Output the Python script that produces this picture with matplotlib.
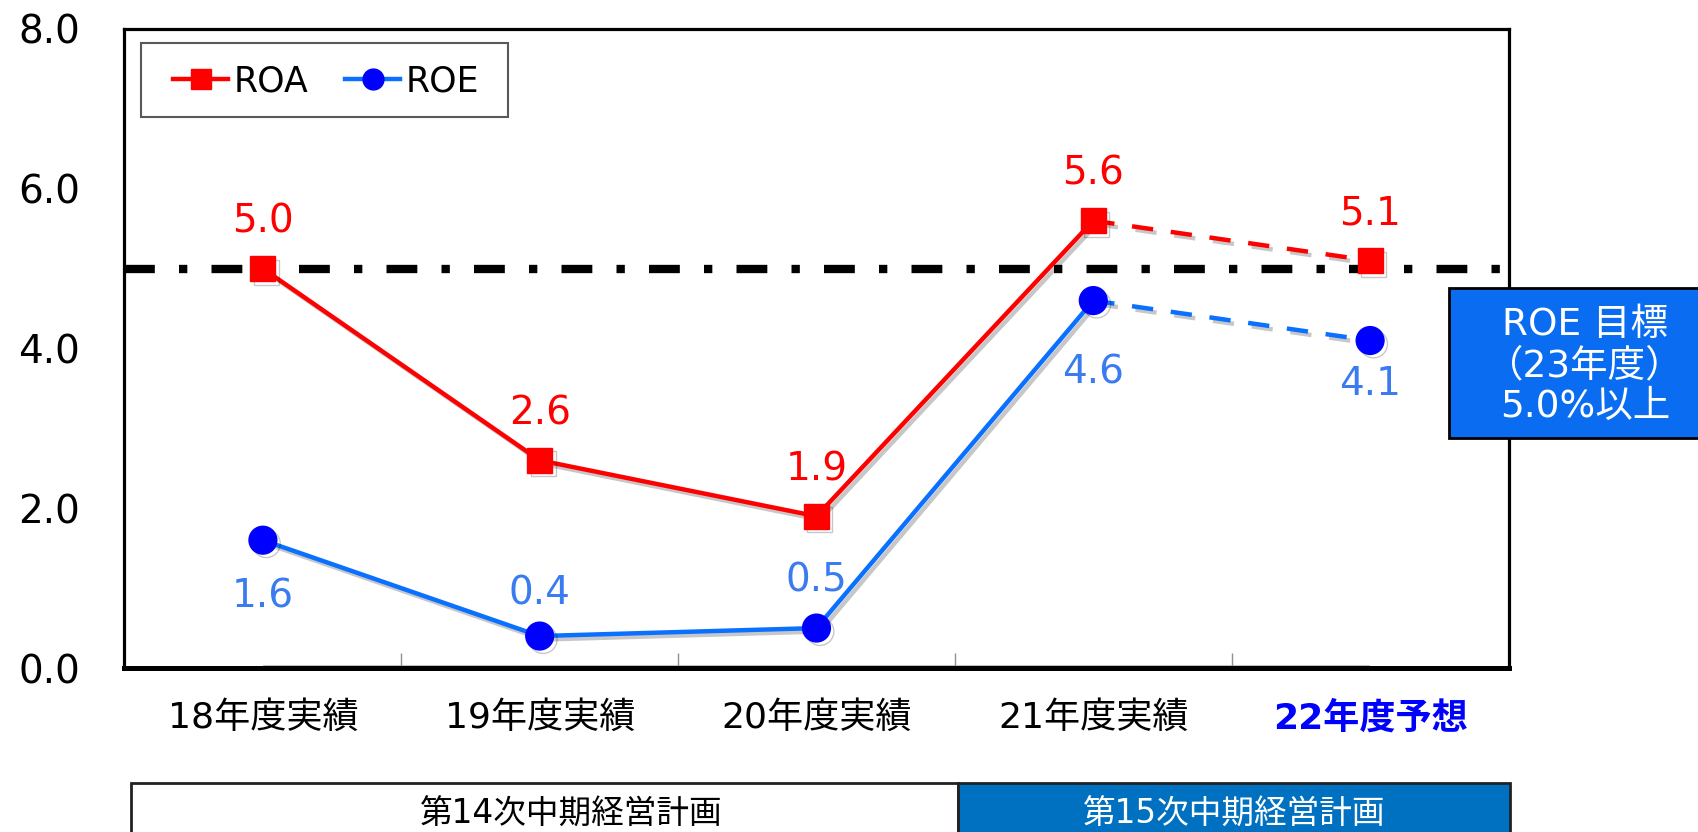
import matplotlib
matplotlib.use("Agg")
import matplotlib.pyplot as plt
from matplotlib.lines import Line2D
from matplotlib.patches import Rectangle
import matplotlib.patheffects as pe

plt.rcParams['font.family'] = ['DejaVu Sans', 'Noto Sans CJK JP']

categories = ["18年度実績", "19年度実績", "20年度実績", "21年度実績", "22年度予想"]
roa = [5.0, 2.6, 1.9, 5.6, 5.1]
roe = [1.6, 0.4, 0.5, 4.6, 4.1]
target = 5.0
yticks = [0, 2, 4, 6, 8]
plan_labels = ["第14次中期経営計画", "第15次中期経営計画"]
target_text = "ROE 目標\n（23年度）\n5.0%以上"

W, H = 1698, 832
fig = plt.figure(figsize=(W / 100, H / 100), dpi=100)
L, R, T, B = 124.5, 1508.5, 29, 668
ax = fig.add_axes([L / W, 1 - B / H, (R - L) / W, (B - T) / H])

x = list(range(len(categories)))
red = "#FF0000"
line_blue = "#0A70FF"
mark_blue = "#0000FF"
lab_blue = "#3A7BF0"

shadow = [pe.SimpleLineShadow(offset=(2.5, -2.5), shadow_color="black", alpha=0.22), pe.Normal()]

# target line
ax.axhline(target, color="black", lw=6, linestyle=(0, (3.7, 2.9, 1.0, 2.9)),
           dash_capstyle="butt", zorder=2)

# ROA
ax.plot(x[:4], roa[:4], color=red, lw=3.2, marker="s", ms=18, mfc=red, mec=red,
        zorder=4, path_effects=shadow)
ax.plot(x[3:], roa[3:], color=red, lw=3.2, linestyle=(0, (4.8, 4.0)), zorder=3,
        path_effects=shadow)
ax.plot(x[4:], roa[4:], linestyle="none", marker="s", ms=18, mfc=red, mec=red,
        zorder=4, path_effects=shadow)

# ROE
ax.plot(x[:4], roe[:4], color=line_blue, lw=3.2, marker="o", ms=20, mfc=mark_blue,
        mec=mark_blue, zorder=4, path_effects=shadow)
ax.plot(x[3:], roe[3:], color=line_blue, lw=3.2, linestyle=(0, (4.8, 4.0)), zorder=3,
        path_effects=shadow)
ax.plot(x[4:], roe[4:], linestyle="none", marker="o", ms=20, mfc=mark_blue,
        mec=mark_blue, zorder=4, path_effects=shadow)

# data labels
roa_off = [34, 34, 34, 34, 34]
roe_off = [-40.7, 30.7, 34, -52, -31.6]
for xi, v, o in zip(x, roa, roa_off):
    ax.annotate(f"{v:.1f}", (xi, v), xytext=(0, o), textcoords="offset points",
                ha="center", va="center", fontsize=28, color=red, zorder=6)
for xi, v, o in zip(x, roe, roe_off):
    ax.annotate(f"{v:.1f}", (xi, v), xytext=(0, o), textcoords="offset points",
                ha="center", va="center", fontsize=28, color=lab_blue, zorder=6)

ax.set_xlim(-0.5, len(categories) - 0.5)
ax.set_ylim(yticks[0], yticks[-1])
ax.set_yticks(yticks)
ax.set_yticklabels([f"{t:.1f}" for t in yticks])
ax.tick_params(axis="y", length=0, pad=32, labelsize=28)
ax.set_xticks(x)
ax.set_xticklabels(categories)
ax.tick_params(axis="x", which="major", length=0, pad=24, labelsize=26)
ax.set_xticks([i + 0.5 for i in x[:-1]], minor=True)
ax.tick_params(axis="x", which="minor", direction="in", length=11, width=1,
               color="#909090")
lbls = ax.get_xticklabels()
lbls[-1].set_color("#0000FF")
lbls[-1].set_fontweight("bold")

ax.hlines(0.02, x[0], x[-1], color="#BFBFBF", lw=1.5, zorder=1)

for s in ["top", "left", "right"]:
    ax.spines[s].set_linewidth(2.3)
ax.spines["bottom"].set_linewidth(3.6)

# legend (frame drawn separately)
fig.patches.append(Rectangle((141 / W, 1 - 117 / H), (508 - 141) / W, 74 / H,
                             transform=fig.transFigure, facecolor="white",
                             edgecolor="#595959", lw=1.5, zorder=6))
handles = [
    Line2D([], [], color=red, lw=3.2, marker="s", ms=14, mfc=red, mec=red),
    Line2D([], [], color=line_blue, lw=3.2, marker="o", ms=15, mfc=mark_blue, mec=mark_blue),
]
leg = fig.legend(handles, ["ROA", "ROE"], ncol=2, fontsize=25, loc="center",
                 bbox_to_anchor=(326 / W, 1 - 81 / H), bbox_transform=fig.transFigure,
                 borderaxespad=0, frameon=False, borderpad=0,
                 handlelength=1.58, handletextpad=0.15, columnspacing=1.07)
leg.set_zorder(7)

# target box
fig.patches.append(Rectangle((1449 / W, 1 - 438 / H), (W + 20 - 1449) / W, 150 / H,
                             transform=fig.transFigure, facecolor="#0A6CF0",
                             edgecolor="black", lw=2, zorder=5, clip_on=False))
fig.text(1585 / W, 1 - 366 / H, target_text, ha="center", va="center", fontsize=27,
         color="white", linespacing=1.18, zorder=6)

# plan boxes
div = 958
fig.patches.append(Rectangle((130.5 / W, -0.05), (div - 130.5) / W, 0.05 + 1 - 782.7 / H,
                             transform=fig.transFigure, facecolor="white",
                             edgecolor="#222222", lw=2, zorder=5))
fig.patches.append(Rectangle((div / W, -0.05), (1510 - div) / W, 0.05 + 1 - 782.7 / H,
                             transform=fig.transFigure, facecolor="#0070C0",
                             edgecolor="#222222", lw=2, zorder=5))
fig.text(571 / W, 1 - 814 / H, plan_labels[0], ha="center", va="center",
         fontsize=23.5, color="black", zorder=6)
fig.text((div + 1510) / 2 / W, 1 - 814 / H, plan_labels[1], ha="center", va="center",
         fontsize=23.5, color="white", zorder=6)

fig.savefig("out.png", dpi=100)
